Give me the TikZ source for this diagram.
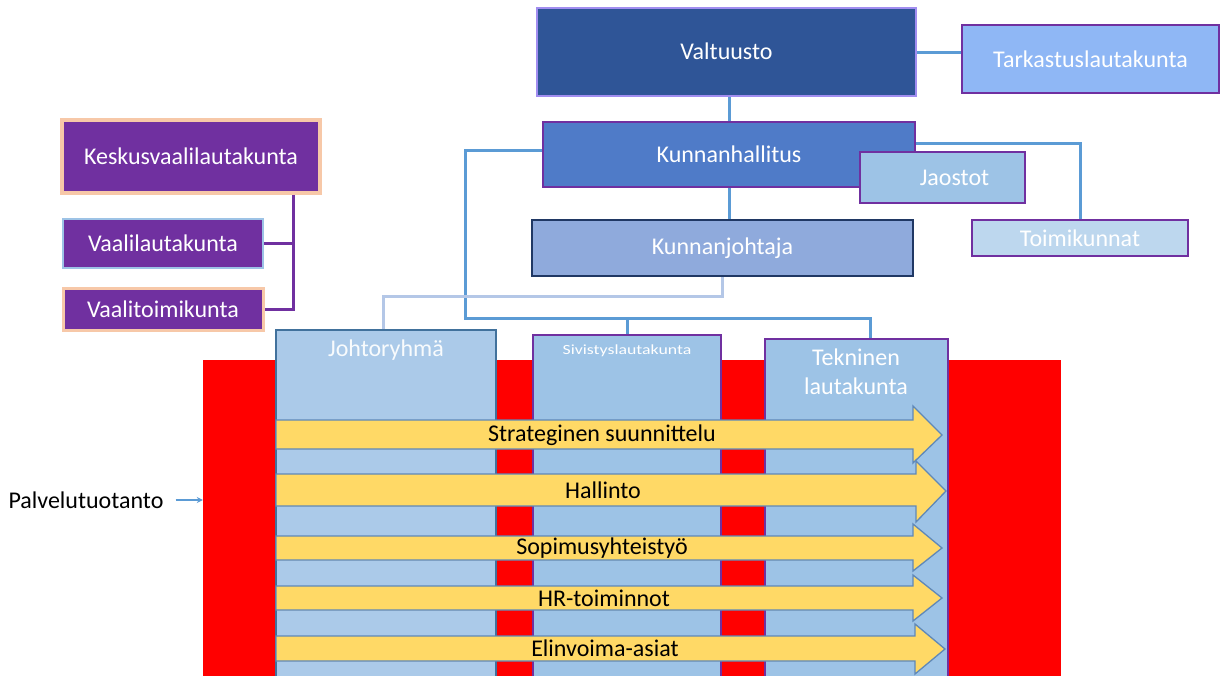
\documentclass[tikz,border=0pt]{standalone}
\usepackage{fontspec}
\setmainfont{Carlito}
\usetikzlibrary{arrows.meta}
\definecolor{valtfill}{HTML}{2F5597}
\definecolor{valtline}{HTML}{A18DF0}
\definecolor{tarkfill}{HTML}{8FB7F5}
\definecolor{khfill}{HTML}{4F7BC8}
\definecolor{jaosfill}{HTML}{9DC3E6}
\definecolor{toimfill}{HTML}{BDD7EE}
\definecolor{kjfill}{HTML}{8FAADC}
\definecolor{kjline}{HTML}{203864}
\definecolor{purp}{HTML}{7030A0}
\definecolor{glow}{HTML}{F4B183}
\definecolor{connblue}{HTML}{5B9BD5}
\definecolor{connlight}{HTML}{B4C7E7}
\definecolor{colA}{HTML}{ABCAE9}
\definecolor{colB}{HTML}{9DC3E6}
\definecolor{colline}{HTML}{41719C}
\definecolor{arrfill}{HTML}{FFD966}
\definecolor{arrline}{HTML}{5F88B8}
\definecolor{redbg}{HTML}{FF0000}
\tikzset{
  box/.style={draw, line width=2pt, inner sep=0pt, text=white, font=\fontsize{24}{27}\selectfont},
  conn/.style={draw=connblue, line width=3pt},
  connl/.style={draw=connlight, line width=3pt},
  pconn/.style={draw=purp, line width=3pt},
  colbox/.style={draw, line width=1.2pt, inner sep=0pt},
  collabel/.style={text=white, font=\fontsize{24}{27}\selectfont, inner sep=0pt},
  flow/.style={fill=arrfill, draw=arrline, line width=1.3pt, line join=miter},
  flowlabel/.style={text=black, font=\fontsize{24}{27}\selectfont, inner sep=0pt}
}
\begin{document}
\begin{tikzpicture}[x=1pt,y=-1pt]
\useasboundingbox (0,0) rectangle (1221,675);
\clip (0,0) rectangle (1221,675);
\fill[white] (0,0) rectangle (1221,675);

% red background and columns
\node[fill=redbg, inner sep=0pt, minimum width=858pt, minimum height=330pt] (red) at (632,525) {};
\node[colbox, fill=colA, draw=colline, minimum width=220pt, minimum height=360pt] (joht) at (386,510) {};
\node[colbox, fill=colB, draw=purp, minimum width=188pt, minimum height=355pt] (siv) at (627,512.5) {};
\node[colbox, fill=colB, draw=purp, minimum width=183pt, minimum height=351pt] (tek) at (856.5,514.5) {};
\node[collabel, text=white!92!colA] (jtext) at (386,350) {Johtoryhmä};
\node[collabel, font=\fontsize{14}{16}\selectfont] (stext) at (627,351) {\scalebox{1.27}[1]{Sivistyslautakunta}};
\node[collabel, align=center, font=\fontsize{24}{29}\selectfont] (ttext) at (856,372) {Tekninen\\lautakunta};

% flow arrows
\draw[flow] (276,420) -- (913,420) -- (913,406) -- (942,435) -- (913,463) -- (913,449) -- (276,449) -- cycle;
\node[flowlabel] (a1) at (602,435) {Strateginen suunnittelu};
\draw[flow] (276,474) -- (916,474) -- (916,461) -- (946,491) -- (916,522) -- (916,506) -- (276,506) -- cycle;
\node[flowlabel] (a2) at (603,490) {Hallinto};
\draw[flow] (276,536) -- (913,536) -- (913,524) -- (942,548) -- (913,571) -- (913,560) -- (276,560) -- cycle;
\node[flowlabel] (a3) at (602,548) {Sopimusyhteistyö};
\draw[flow] (276,586) -- (913,586) -- (913,575) -- (942,598) -- (913,621) -- (913,610) -- (276,610) -- cycle;
\node[flowlabel] (a4) at (604,598) {HR-toiminnot};
\draw[flow] (276,636) -- (915,636) -- (915,624) -- (945,649) -- (915,674) -- (915,661) -- (276,661) -- cycle;
\node[flowlabel] (a5) at (605,648) {Elinvoima-asiat};

% Palvelutuotanto
\node[inner sep=0pt, font=\fontsize{24}{27}\selectfont] (palv) at (86,500) {Palvelutuotanto};
\draw[draw=connblue, line width=1.2pt, -{Stealth[length=6pt,width=6pt]}, shorten <=12pt] (palv.east) -- (palv.east -| red.west);

% top nodes
\node[box, fill=valtfill, draw=valtline, minimum width=379pt, minimum height=88pt] (valt) at (726.5,52) {\raisebox{2pt}{Valtuusto}};
\node[box, fill=tarkfill, draw=purp, minimum width=257pt, minimum height=68pt] (tark) at (1090.5,59) {Tarkastuslautakunta};
\node[box, fill=khfill, draw=purp, minimum width=372pt, minimum height=65pt] (kh) at (729,154.5) {Kunnanhallitus};
\node[box, fill=kjfill, draw=kjline, minimum width=381pt, minimum height=56pt] (kj) at (722.5,248) {Kunnanjohtaja};
\node[box, fill=toimfill, draw=purp, minimum width=216pt, minimum height=36pt] (toim) at (1080,238) {Toimikunnat};

% connectors
\draw[conn] (valt.east) -- (valt.east -| tark.west);
\draw[conn] (kh.north) -- (kh.north |- valt.south);
\draw[conn] (kh.south) -- (kh.south |- kj.north);
\draw[conn] ([yshift=11.5pt]kh.east) -| (toim.north);
\coordinate (loopL) at (465,318);
\draw[conn] ([yshift=4.5pt]kh.west) -| (loopL) -| ([xshift=14pt]tek.north);
\draw[conn] (siv.north) -- (siv.north |- loopL);
\draw[connl] (kj.south) -- ++(0,19) -| ([xshift=-3pt]joht.north);

\node[box, fill=jaosfill, draw=purp, minimum width=165pt, minimum height=51pt] (jaos) at (942.5,177.5) {\hspace*{24pt}Jaostot};

% election nodes
\coordinate (pv) at (293,0);
\node[box, fill=purp, draw=glow!70, line width=3.5pt, minimum width=258pt, minimum height=73pt] (kesk) at (191,156.5) {Keskusvaalilautakunta};
\node[box, fill=purp, draw=colB, line width=2pt, minimum width=200pt, minimum height=49pt] (vlk) at (163,243.5) {Vaalilautakunta};
\node[box, fill=purp, draw=glow!70, line width=3pt, minimum width=200pt, minimum height=42pt] (vtk) at (163,309) {Vaalitoimikunta};
\draw[pconn] (kesk.south -| pv) |- (vtk.east);
\draw[pconn] (vlk.east) -- (vlk.east -| pv);
\end{tikzpicture}
\end{document}
